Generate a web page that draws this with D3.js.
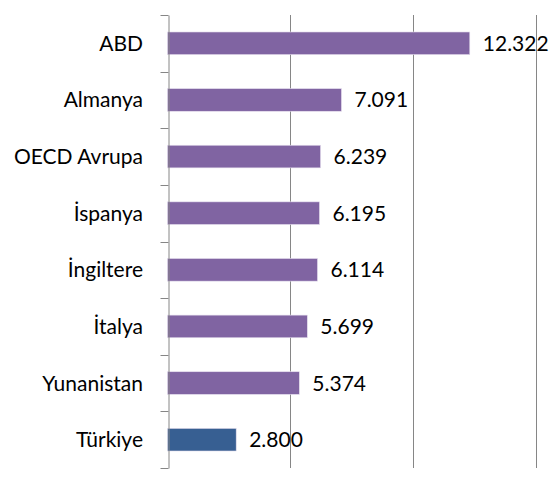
<!DOCTYPE html>
<html><head><meta charset="utf-8">
<script src="https://cdn.jsdelivr.net/npm/d3@7"></script>
<style>body{margin:0;background:#fff}svg{display:block}</style>
</head><body>
<svg id="c" width="555" height="491"></svg>
<script>
const categories = ["ABD","Almanya","OECD Avrupa","İspanya","İngiltere","İtalya","Yunanistan","Türkiye"];
const values = [12322, 7091, 6239, 6195, 6114, 5699, 5374, 2800];
const valueLabels = ["12.322","7.091","6.239","6.195","6.114","5.699","5.374","2.800"];
const colors = ["#8064A2","#8064A2","#8064A2","#8064A2","#8064A2","#8064A2","#8064A2","#375F92"];
const gridTicks = [0, 5000, 10000, 15000];

const svg = d3.select("#c");
const font = "Lato, 'Open Sans', sans-serif";
const x = d3.scaleLinear().domain([0, 15000]).range([167.5, 535.5]);
const y = d3.scaleBand().domain(categories).range([15, 468]).paddingInner(0.6).paddingOuter(0.3);
const yb = d3.scaleBand().domain(categories).range([15, 468]);

// gridlines
svg.append("g").selectAll("line").data(gridTicks.slice(1)).join("line")
  .attr("x1", d => Math.round(x(d)) + 0.5).attr("x2", d => Math.round(x(d)) + 0.5)
  .attr("y1", 15).attr("y2", 468)
  .attr("stroke", "#868686").attr("stroke-width", 1);

// bars
svg.append("g").selectAll("rect").data(categories).join("rect")
  .attr("x", x(0)).attr("y", d => y(d))
  .attr("width", (d, i) => x(values[i]) - x(0))
  .attr("height", y.bandwidth())
  .attr("fill", (d, i) => colors[i])
  .attr("stroke", "#e6e0ee").attr("stroke-width", 0.6);

// y axis
const yAxis = d3.axisLeft(yb).tickSize(0).tickSizeOuter(0).tickFormat("");
const ga = svg.append("g").attr("transform", `translate(${Math.round(x(0)) + 0.5},0)`).call(yAxis);
ga.select(".domain").attr("stroke", "#868686");
const bounds = categories.map(c => yb(c)).concat([468]);
ga.selectAll(".tk").data(bounds).join("line").attr("class", "tk")
  .attr("x1", -8).attr("x2", 0)
  .attr("y1", d => Math.round(d) + 0.5).attr("y2", d => Math.round(d) + 0.5)
  .attr("stroke", "#868686");

// category labels
svg.append("g").selectAll("text").data(categories).join("text")
  .attr("x", 143).attr("y", d => yb(d) + yb.bandwidth() / 2)
  .attr("dy", "0.36em").attr("text-anchor", "end")
  .attr("font-family", font).attr("font-size", 21).attr("fill", "#000")
  .text(d => d);

// value labels
svg.append("g").selectAll("text").data(categories).join("text")
  .attr("x", (d, i) => x(values[i]) + 13).attr("y", d => yb(d) + yb.bandwidth() / 2)
  .attr("dy", "0.36em")
  .attr("font-family", font).attr("font-size", 21).attr("fill", "#000")
  .text((d, i) => valueLabels[i]);
</script>
</body></html>
